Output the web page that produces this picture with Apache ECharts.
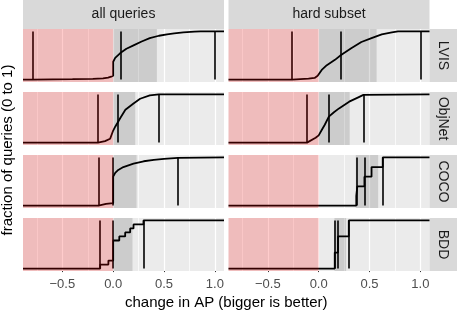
<!DOCTYPE html>
<html><head><meta charset="utf-8">
<script src="https://cdn.jsdelivr.net/npm/echarts@6/dist/echarts.min.js"></script>
<style>html,body{margin:0;padding:0;background:#fff}#c{width:457px;height:313px}</style>
</head><body><div id="c"></div><script>
const FONT = 'Liberation Sans, Arial, sans-serif';
const xMin = -0.887, xMax = 1.09;
const columns = ['all queries', 'hard subset'];
const rows = ['LVIS', 'ObjNet', 'COCO', 'BDD'];
const xTickValues = [-0.5, 0, 0.5, 1.0];
const xTickLabels = ['\u22120.5', '0.0', '0.5', '1.0'];
const xMinorValues = [-0.75, -0.25, 0.25, 0.75];

// ECDF curves [change in AP, fraction]
const lvisAllEcdf = [[-0.79,0],[-0.79,0.005],[-0.4,0.008],[-0.2,0.015],[-0.1,0.025],[-0.05,0.04],[-0.02,0.06],[0,0.08],[0,0.37],[0.02,0.45],[0.07,0.55],[0.13,0.64],[0.2,0.71],[0.28,0.79],[0.36,0.86],[0.45,0.91],[0.53,0.94],[0.6,0.96],[0.69,0.98],[0.8,0.995],[0.86,1.0]];
const lvisHardEcdf = [[-0.26,0],[-0.26,0.01],[-0.1,0.02],[-0.04,0.035],[-0.01,0.08],[0,0.12],[0.03,0.2],[0.08,0.3],[0.16,0.41],[0.22,0.51],[0.32,0.65],[0.42,0.78],[0.52,0.86],[0.62,0.94],[0.72,0.98],[0.78,1.0]];
const objAllEcdf = [[-0.15,0],[-0.15,0.01],[-0.08,0.03],[-0.03,0.08],[0,0.25],[0.02,0.33],[0.04,0.4],[0.07,0.51],[0.12,0.68],[0.2,0.81],[0.265,0.91],[0.36,0.98],[0.45,1.0]];
const objHardEcdf = [[-0.115,0],[-0.115,0.02],[-0.03,0.1],[0,0.15],[0.03,0.26],[0.06,0.37],[0.1,0.54],[0.15,0.63],[0.2,0.71],[0.3,0.85],[0.4,0.95],[0.44,0.99],[0.44,1.0]];
const cocoAllEcdf = [[-0.145,0],[-0.145,0.035],[-0.07,0.035],[-0.07,0.05],[0,0.05],[0,0.6],[0.02,0.68],[0.05,0.74],[0.1,0.8],[0.2,0.87],[0.3,0.92],[0.4,0.95],[0.5,0.97],[0.637,0.99],[0.637,1.0]];
const cocoHardEcdf = [[0.37,0.2],[0.38,0.4],[0.45,0.6],[0.52,0.8],[0.63,1.0]];
const bddAllEcdf = [[-0.128,0.083],[-0.047,0.167],[0,0.583],[0.06,0.667],[0.118,0.75],[0.167,0.833],[0.2,0.917],[0.298,1.0]];
const bddHardEcdf = [[0.158,0.333],[0.19,0.667],[0.296,1.0]];

// vertical reference lines (min, median, max)
const lvisAllLines = [-0.79, 0.07, 1.0];
const lvisHardLines = [-0.26, 0.22, 1.0];
const objAllLines = [-0.15, 0.042, 0.45];
const objHardLines = [-0.115, 0.098, 0.44];
const cocoAllLines = [-0.145, 0.0, 0.637];
const cocoHardLines = [0.37, 0.45, 0.63];
const bddAllLines = [-0.128, 0.0, 0.298];
const bddHardLines = [0.158, 0.19, 0.296];

// grey bands
const lvisAllBand = [0, 0.43];
const lvisHardBand = [0, 0.57];
const objAllBand = [0, 0.217];
const objHardBand = [0, 0.305];
const cocoAllBand = [0, 0.23];
const cocoHardBand = [0.365, 0.585];
const bddAllBand = [0, 0.19];
const bddHardBand = [0.155, 0.27];

const panels = [
  [{e:lvisAllEcdf,l:lvisAllLines,b:lvisAllBand,s:false},{e:lvisHardEcdf,l:lvisHardLines,b:lvisHardBand,s:false}],
  [{e:objAllEcdf,l:objAllLines,b:objAllBand,s:false},{e:objHardEcdf,l:objHardLines,b:objHardBand,s:false}],
  [{e:cocoAllEcdf,l:cocoAllLines,b:cocoAllBand,s:false},{e:cocoHardEcdf,l:cocoHardLines,b:cocoHardBand,s:true}],
  [{e:bddAllEcdf,l:bddAllLines,b:bddAllBand,s:true},{e:bddHardEcdf,l:bddHardLines,b:bddHardBand,s:true}]
];

const gridLeft = [23, 228.5], gridW = 201;
const gridTop = [29, 92, 155, 218], gridH = 53;

const grids = [], xAxes = [], yAxes = [], series = [], graphics = [];
let idx = 0;
rows.forEach((rn, r) => {
  columns.forEach((cn, c) => {
    const p = panels[r][c];
    grids.push({left: gridLeft[c], top: gridTop[r], width: gridW, height: gridH, show: true, backgroundColor: '#ebebeb', borderWidth: 0});
    const bottom = r === rows.length - 1;
    xAxes.push({gridIndex: idx, type: 'value', min: xMin, max: xMax,
      axisLine: {show: false}, splitLine: {show: false},
      axisTick: {show: bottom, customValues: xTickValues, length: 3.5, lineStyle: {color: '#333333', width: 1}},
      axisLabel: {show: bottom, customValues: xTickValues, margin: 7, color: '#4d4d4d', fontSize: 13, fontFamily: FONT,
        formatter: v => { const k = xTickValues.findIndex(t => Math.abs(t - v) < 1e-6); return k >= 0 ? xTickLabels[k] : ''; }}
    });
    yAxes.push({gridIndex: idx, type: 'value', min: -0.05, max: 1.05, show: false});
    // gridlines
    series.push({type: 'line', xAxisIndex: idx, yAxisIndex: idx, data: [], z: 1, silent: true, animation: false,
      markLine: {z: 1, symbol: ['none','none'], silent: true, animation: false, label: {show: false},
        lineStyle: {color: '#ffffff', type: 'solid'},
        data: xTickValues.map(v => ({xAxis: v, lineStyle: {width: 1.2, color: '#ffffff', type: 'solid'}}))
          .concat(xMinorValues.map(v => ({xAxis: v, lineStyle: {width: 0.7, color: '#ffffff', type: 'solid'}})))}
    });
    // ECDF
    series.push({type: 'line', xAxisIndex: idx, yAxisIndex: idx, z: 3, silent: true, animation: false,
      showSymbol: false, step: p.s ? 'end' : false,
      data: [[xMin, 0]].concat(p.e, [[xMax, 1]]),
      lineStyle: {color: '#000000', width: 1.8},
      markLine: {z: 4, symbol: ['none','none'], silent: true, animation: false, label: {show: false},
        lineStyle: {color: '#000000', width: 1.6, type: 'solid'},
        data: p.l.map(v => [{coord: [v, 0]}, {coord: [v, 1]}])}
    });
    // overlays
    series.push({type: 'line', xAxisIndex: idx, yAxisIndex: idx, data: [], z: 10, silent: true, animation: false,
      markArea: {z: 10, silent: true, animation: false, label: {show: false},
        data: [
          [{xAxis: xMin, itemStyle: {color: 'rgba(255,0,0,0.2)'}}, {xAxis: 0}],
          [{xAxis: p.b[0], itemStyle: {color: 'rgba(0,0,0,0.13)'}}, {xAxis: p.b[1]}]
        ]}
    });
    idx++;
  });
});

columns.forEach((cn, c) => {
  graphics.push({type: 'rect', shape: {x: gridLeft[c], y: 0, width: gridW, height: gridTop[0]}, style: {fill: '#d9d9d9'}, silent: true});
  graphics.push({type: 'text', x: gridLeft[c] + gridW / 2, y: gridTop[0] / 2, silent: true,
    style: {text: cn, fill: '#1a1a1a', font: '14px ' + FONT, align: 'center', verticalAlign: 'middle'}});
});
const stripX = gridLeft[1] + gridW, stripW = 457 - stripX;
rows.forEach((rn, r) => {
  graphics.push({type: 'rect', shape: {x: stripX, y: gridTop[r], width: stripW, height: gridH}, style: {fill: '#d9d9d9'}, silent: true});
  graphics.push({type: 'text', x: stripX + stripW / 2, y: gridTop[r] + gridH / 2, rotation: -Math.PI / 2, silent: true,
    style: {text: rn, fill: '#1a1a1a', font: '14px ' + FONT, align: 'center', verticalAlign: 'middle'}});
});
graphics.push({type: 'text', x: (gridLeft[0] + stripX) / 2, y: 303, silent: true,
  style: {text: 'change in AP (bigger is better)', fill: '#000000', font: '15px ' + FONT, align: 'center', verticalAlign: 'middle'}});
graphics.push({type: 'text', x: 8, y: (gridTop[0] + gridTop[3] + gridH) / 2, rotation: Math.PI / 2, silent: true,
  style: {text: 'fraction of queries (0 to 1)', fill: '#000000', font: '15px ' + FONT, align: 'center', verticalAlign: 'middle'}});

const chart = echarts.init(document.getElementById('c'), null, {renderer: 'canvas'});
chart.setOption({animation: false, grid: grids, xAxis: xAxes, yAxis: yAxes, series: series, graphic: graphics});
</script></body></html>
